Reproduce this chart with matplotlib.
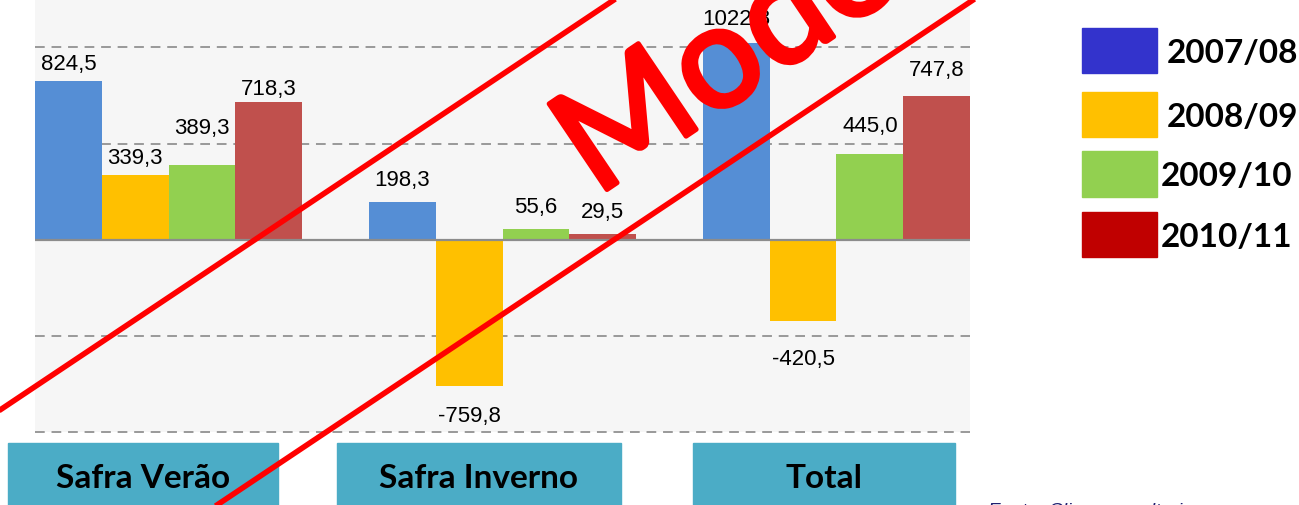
import matplotlib
matplotlib.use("Agg")
import matplotlib.pyplot as plt
import matplotlib.patheffects as pe
from matplotlib.patches import Rectangle
import numpy as np

# dados
categorias = ["Safra Verão", "Safra Inverno", "Total"]
safras = ["2007/08", "2008/09", "2009/10", "2010/11"]
v_2007_08 = [824.5, 198.3, 1022.8]
v_2008_09 = [339.3, -759.8, -420.5]
v_2009_10 = [389.3, 55.6, 445.0]
v_2010_11 = [718.3, 29.5, 747.8]
series = [v_2007_08, v_2008_09, v_2009_10, v_2010_11]

cores_barra = ["#558ed5", "#ffc000", "#92d050", "#c0504d"]
cores_legenda = ["#3333cc", "#ffc000", "#92d050", "#c00000"]
# distancia (px) entre barra e rotulo, ajustada a mao como no original
gap_rotulo = [[6, 11, 13], [6, 20, 28], [26, 11, 17], [2, 11, 15]]

W, H = 1299, 505
fig = plt.figure(figsize=(W / 100, H / 100), dpi=100)

ax = fig.add_axes([35 / W, (H - 432) / H, (970 - 35) / W, 432 / H])
ax.set_facecolor("#f6f6f6")
ax.set_xlim(-0.4, 2.4)
ax.set_ylim(-1000, 1247)
for s in ax.spines.values():
    s.set_visible(False)
ax.set_xticks([])
ax.set_yticks([])

for yv in [1000, 500, -500, -1000]:
    ax.axhline(yv, color="#999999", lw=1.4, ls=(0, (5, 3.5)), zorder=1, clip_on=False)
ax.axhline(0, color="#8c8c8c", lw=1.6, zorder=3)

x = np.arange(len(categorias))
largura = 0.2
for i, vals in enumerate(series):
    pos = x - 0.3 + i * largura
    ax.bar(pos, vals, largura, color=cores_barra[i], zorder=2)
    for j, v in enumerate(vals):
        txt = f"{v:.1f}".replace(".", ",")
        g = gap_rotulo[i][j] * 0.72
        if v >= 0:
            ax.annotate(txt, (pos[j], v), xytext=(0, g), textcoords="offset points",
                        ha="center", va="bottom", fontsize=16, family="Liberation Sans", zorder=4)
        else:
            ax.annotate(txt, (pos[j], v), xytext=(0, -g), textcoords="offset points",
                        ha="center", va="top", fontsize=16, family="Liberation Sans", zorder=4)

# camada em pixels para caixas, legenda e marca d'agua
ov = fig.add_axes([0, 0, 1, 1], zorder=10)
ov.set_xlim(0, W)
ov.set_ylim(H, 0)
ov.axis("off")
ov.patch.set_alpha(0)

caixas = [(8, 278), (337, 621), (693, 955)]
for (x0, x1), cat in zip(caixas, categorias):
    ov.add_patch(Rectangle((x0, 443), x1 - x0, 70, color="#4bacc6", clip_on=False))
    ov.text((x0 + x1) / 2, 478, cat, ha="center", va="center", fontsize=24,
            fontweight="bold", family="Lato", color="black")

leg_y = [(28, 73), (92, 137), (151, 197), (212, 257)]
leg_tx = [1167, 1167, 1161, 1161]
for i, s in enumerate(safras):
    y0, y1 = leg_y[i]
    ov.add_patch(Rectangle((1082, y0), 75, y1 - y0, color=cores_legenda[i]))
    ov.text(leg_tx[i], (y0 + y1) / 2 + 3, s, ha="left", va="center", fontsize=24,
            fontweight="bold", family="Lato", color="black")

ov.text(988, 503, "Fonte: Climaconsultoria", ha="left", va="top", fontsize=14,
        style="italic", color="#1f1f70", family="Liberation Sans")

# marca d'agua
k = 0.668
ov.plot([-50, 700], [410 + 50 * k, 410 - 700 * k], color="#ff0000", lw=4, solid_capstyle="butt")
ov.plot([100, 1100], [505 + (217 - 100) * k, 505 - (1100 - 217) * k], color="#ff0000", lw=4,
        solid_capstyle="butt")
ov.text(596, 197, "Modelo", ha="left", va="baseline", rotation=34, rotation_mode="anchor",
        fontsize=104, color="#ff0000", family="Lato",
        path_effects=[pe.withStroke(linewidth=3.5, foreground="#ff0000", joinstyle="round")])

fig.savefig("out.png", dpi=100)
